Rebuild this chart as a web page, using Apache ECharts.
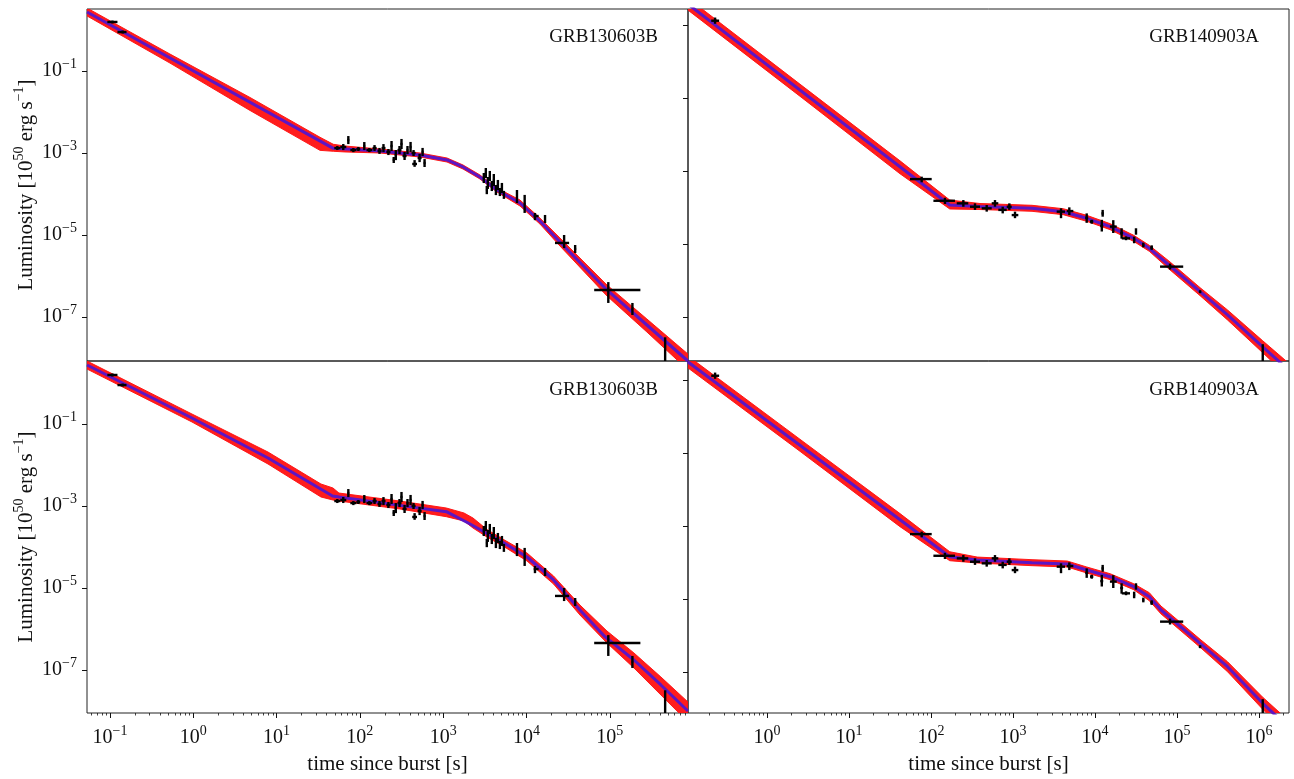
<!DOCTYPE html>
<html>
<head>
<meta charset="utf-8">
<title>GRB light curves</title>
<script src="https://cdn.jsdelivr.net/npm/echarts@6/dist/echarts.min.js"></script>
<style>
  html, body { margin: 0; padding: 0; background: #fff; }
  #chart { width: 1294px; height: 779px; }
</style>
</head>
<body>
<div id="chart"></div>
<script>
// 观测点: [t, tLow, tHigh, L, LLow, LHigh]  (t: s, L: 10^50 erg/s)
const grbA_points = [
  [0.107, 0.093, 0.123, 1.57, 1.44, 1.70],
  [0.142, 0.123, 0.158, 0.89, 0.82, 0.97],
  [53.6, 49.3, 58.3, 1.32e-3, 1.18e-3, 1.48e-3],
  [63.2, 58.1, 68.7, 1.40e-3, 1.18e-3, 1.66e-3],
  [72.7, 70.7, 74.7, 2.07e-3, 1.65e-3, 2.59e-3],
  [83.5, 76.8, 90.8, 1.18e-3, 1.05e-3, 1.32e-3],
  [95.9, 90.7, 101, 1.25e-3, 1.12e-3, 1.40e-3],
  [113, 110, 116, 1.48e-3, 1.18e-3, 1.85e-3],
  [130, 120, 141, 1.18e-3, 1.05e-3, 1.32e-3],
  [150, 142, 159, 1.32e-3, 1.12e-3, 1.56e-3],
  [172, 163, 182, 1.12e-3, 0.95e-3, 1.33e-3],
  [192, 182, 203, 1.32e-3, 1.05e-3, 1.65e-3],
  [220, 208, 233, 1.06e-3, 0.89e-3, 1.25e-3],
  [240, 233, 247, 1.48e-3, 1.12e-3, 1.96e-3],
  [255, 248, 262, 6.8e-4, 5.7e-4, 8.0e-4],
  [270, 262, 278, 8.9e-4, 6.7e-4, 1.18e-3],
  [299, 283, 316, 1.18e-3, 9.4e-4, 1.48e-3],
  [316, 307, 325, 1.66e-3, 1.25e-3, 2.2e-3],
  [344, 325, 364, 8.45e-4, 6.75e-4, 1.06e-3],
  [373, 363, 383, 1.18e-3, 9.4e-4, 1.48e-3],
  [406, 395, 417, 1.40e-3, 1.06e-3, 1.86e-3],
  [441, 417, 466, 1.0e-3, 8.45e-4, 1.18e-3],
  [454, 425, 485, 5.4e-4, 4.6e-4, 6.7e-4],
  [521, 493, 551, 7.55e-4, 6.0e-4, 9.5e-4],
  [566, 551, 582, 1.06e-3, 8.45e-4, 1.33e-3],
  [598, 582, 615, 5.7e-4, 4.55e-4, 7.1e-4],
  [3076, 3000, 3150, 2.45e-4, 1.85e-4, 3.25e-4],
  [3251, 3170, 3330, 3.25e-4, 2.45e-4, 4.3e-4],
  [3340, 3260, 3420, 1.25e-4, 9.9e-5, 1.57e-4],
  [3436, 3350, 3520, 1.85e-4, 1.33e-4, 2.6e-4],
  [3631, 3540, 3720, 2.75e-4, 2.07e-4, 3.65e-4],
  [3837, 3740, 3940, 1.57e-4, 1.18e-4, 2.08e-4],
  [4055, 3950, 4160, 2.19e-4, 1.56e-4, 3.07e-4],
  [4295, 4190, 4400, 1.25e-4, 9.4e-5, 1.66e-4],
  [4538, 4420, 4660, 1.66e-4, 1.25e-4, 2.2e-4],
  [4796, 4680, 4920, 1.12e-4, 8.9e-5, 1.40e-4],
  [5070, 4940, 5200, 1.40e-4, 1.06e-4, 1.86e-4],
  [5358, 5220, 5500, 9.5e-5, 7.6e-5, 1.19e-4],
  [7690, 7500, 7880, 8.7e-5, 6.0e-5, 1.25e-4],
  [9510, 9300, 9720, 5.7e-5, 3.45e-5, 9.5e-5],
  [12650, 12200, 14000, 2.9e-5, 2.3e-5, 3.45e-5],
  [16700, 16300, 17100, 2.45e-5, 1.96e-5, 3.08e-5],
  [28300, 22000, 32500, 6.4e-6, 4.8e-6, 1.0e-5],
  [38400, 37300, 39500, 4.56e-6, 3.64e-6, 5.7e-6],
  [96000, 65000, 233000, 4.56e-7, 2.2e-7, 7.1e-7],
  [187000, 183000, 191000, 1.57e-7, 1.12e-7, 2.2e-7],
  [462000, 455000, 470000, 1.4e-8, 1e-9, 3.2e-8],
]
const grbB_points = [
  [0.233, 0.209, 0.261, 13.1, 10.8, 16.0],
  [77, 55.5, 102, 6.0e-4, 4.9e-4, 7.0e-4],
  [148, 107, 196, 1.53e-4, 1.25e-4, 1.85e-4],
  [248, 206, 285, 1.30e-4, 1.05e-4, 1.60e-4],
  [344, 299, 396, 1.05e-4, 8.6e-5, 1.30e-4],
  [478, 415, 550, 9.5e-5, 7.7e-5, 1.17e-4],
  [603, 550, 662, 1.30e-4, 1.05e-4, 1.60e-4],
  [749, 662, 838, 8.6e-5, 6.9e-5, 1.05e-4],
  [902, 838, 964, 1.05e-4, 8.6e-5, 1.30e-4],
  [1058, 964, 1161, 6.2e-5, 5.1e-5, 7.7e-5],
  [3850, 3410, 4310, 7.7e-5, 5.1e-5, 9.5e-5],
  [4860, 4520, 5440, 8.0e-5, 6.2e-5, 1.01e-4],
  [7920, 7600, 8260, 5.2e-5, 3.8e-5, 6.9e-5],
  [9120, 8690, 9530, 4.1e-5, 3.6e-5, 4.6e-5],
  [12400, 12000, 12800, 6.9e-5, 5.6e-5, 8.6e-5],
  [12100, 11600, 12600, 3.1e-5, 2.2e-5, 4.6e-5],
  [16700, 15200, 18400, 3.0e-5, 2.0e-5, 4.5e-5],
  [21100, 20300, 22000, 2.0e-5, 1.4e-5, 2.7e-5],
  [23900, 21200, 26700, 1.43e-5, 1.27e-5, 1.62e-5],
  [31600, 30700, 32500, 2.2e-5, 1.8e-5, 2.7e-5],
  [30000, 29100, 30900, 1.29e-5, 1.05e-5, 1.59e-5],
  [38800, 37700, 39900, 9.4e-6, 8.1e-6, 1.09e-5],
  [49100, 47300, 51000, 8.0e-6, 6.9e-6, 9.2e-6],
  [82200, 62100, 119000, 2.4e-6, 2.0e-6, 2.9e-6],
  [191000, 185000, 197000, 4.9e-7, 4.5e-7, 5.4e-7],
  [1110000, 1090000, 1130000, 9e-9, 1e-9, 1.8e-8],
]

// 模型中值曲线: [t, L]
const grbA_fitTop = [
  [0.053, 2.75], [48.0, 1.30e-3], [174, 1.12e-3], [527, 8.93e-4], [1112, 6.75e-4],
  [1730, 4.56e-4], [2767, 2.60e-4], [4426, 1.25e-4], [8356, 6.03e-5], [14520, 2.19e-5],
  [25230, 6.75e-6], [92470, 4.56e-7], [279000, 6.38e-8], [867000, 8.45e-9],
]
const grbB_fitTop = [
  [0.1089, 37.2], [169.4, 1.17e-4], [396, 1.064e-4], [1706, 9.51e-5], [4104, 7.67e-5],
  [7925, 5.06e-5], [15310, 2.98e-5], [29650, 1.43e-5], [45920, 7.62e-6], [79700, 2.66e-6],
  [191400, 4.93e-7], [413000, 1.14e-7], [1110000, 1.53e-8], [2320000, 3.44e-9],
]
const grbA_fitBottom = [
  [0.053, 2.75], [0.964, 0.140], [7.89, 0.0148], [47.0, 1.75e-3], [56.1, 1.66e-3],
  [303, 1.035e-3], [1091, 7.26e-4], [2028, 3.79e-4], [3319, 2.16e-4], [5445, 1.23e-4],
  [10140, 5.70e-5], [21130, 1.57e-5], [43860, 2.90e-6], [87500, 6.49e-7], [195000, 1.75e-7],
  [411000, 4.31e-8], [867000, 1.0e-8],
]
const grbB_fitBottom = [
  [0.108, 31.7], [169.4, 1.44e-4], [366, 1.17e-4], [1706, 9.89e-5], [4581, 9.10e-5],
  [7925, 6.24e-5], [15310, 4.08e-5], [29650, 2.17e-5], [45920, 1.16e-5], [63800, 5.0e-6],
  [88900, 2.66e-6], [191400, 6.11e-7], [413000, 1.40e-7], [1110000, 1.39e-8], [2320000, 2.92e-9],
]

// 后验样本包络: [t, Llow, Lhigh]
const grbA_bandTop = [
  [0.053, 2.20, 3.44], [0.525, 0.156, 0.259], [4.80, 0.01089, 0.02259], [33.2, 1.16e-3, 2.42e-3],
  [48.0, 1.10e-3, 1.63e-3], [66.2, 1.06e-3, 1.48e-3], [174, 1.0e-3, 1.25e-3], [527, 7.98e-4, 9.99e-4],
  [1112, 6.03e-4, 7.55e-4], [1730, 4.07e-4, 5.10e-4], [2767, 2.32e-4, 2.91e-4], [4426, 1.12e-4, 1.40e-4],
  [8356, 5.10e-5, 7.13e-5], [14520, 1.85e-5, 2.59e-5], [25230, 5.39e-6, 8.45e-6], [92470, 3.26e-7, 6.04e-7],
  [279000, 4.31e-8, 8.93e-8], [867000, 5.10e-9, 1.25e-8],
]
const grbB_bandTop = [
  [0.1089, 25.5, 54.3], [2.52, 0.112, 0.240], [41.9, 8.4e-4, 1.90e-3], [169.4, 9.1e-5, 1.60e-4],
  [396, 8.8e-5, 1.285e-4], [1706, 7.87e-5, 1.149e-4], [4104, 6.35e-5, 9.27e-5], [7925, 4.19e-5, 6.11e-5],
  [15310, 2.47e-5, 3.60e-5], [29650, 1.18e-5, 1.73e-5], [45920, 6.31e-6, 9.20e-6], [79700, 2.07e-6, 3.42e-6],
  [191400, 3.83e-7, 6.35e-7], [413000, 8.3e-8, 1.56e-7], [1110000, 1.05e-8, 2.23e-8], [2320000, 2.21e-9, 5.35e-9],
]
const grbA_bandBottom = [
  [0.053, 2.19, 3.44], [0.964, 0.112, 0.1754], [7.89, 0.01057, 0.0207], [34.1, 1.66e-3, 3.44e-3],
  [47.5, 1.40e-3, 2.75e-3], [56.1, 1.32e-3, 2.07e-3], [303, 8.45e-4, 1.32e-3], [1091, 5.48e-4, 8.93e-4],
  [1778, 4.31e-4, 6.75e-4], [2281, 2.90e-4, 5.09e-4], [3357, 1.75e-4, 2.67e-4], [5445, 1.0e-4, 1.48e-4],
  [10140, 4.56e-5, 7.14e-5], [21130, 1.25e-5, 1.96e-5], [43860, 2.19e-6, 3.84e-6], [92500, 4.56e-7, 8.93e-7],
  [195000, 1.12e-7, 2.60e-7], [411000, 2.46e-8, 6.75e-8], [867000, 5.40e-9, 1.66e-8],
]
const grbB_bandBottom = [
  [0.108, 21.7, 46.3], [2.52, 0.112, 0.239], [41.9, 9.6e-4, 2.19e-3], [169.4, 1.12e-4, 1.97e-4],
  [366, 9.7e-5, 1.41e-4], [1706, 8.19e-5, 1.195e-4], [4581, 7.53e-5, 1.10e-4], [7925, 5.17e-5, 7.54e-5],
  [15310, 3.38e-5, 4.93e-5], [29650, 1.80e-5, 2.62e-5], [45920, 9.0e-6, 1.49e-5], [63800, 3.9e-6, 6.4e-6],
  [88900, 2.07e-6, 3.42e-6], [191400, 4.75e-7, 7.86e-7], [413000, 1.02e-7, 1.92e-7],
  [1110000, 9.5e-9, 2.03e-8], [2320000, 1.88e-9, 4.54e-9],
]

// 刻度
const xMajorLeft = [0.1, 1, 10, 100, 1e3, 1e4, 1e5]
const xMajorRight = [1, 10, 100, 1e3, 1e4, 1e5, 1e6]
const yMajorLeft = [1e-7, 1e-5, 1e-3, 1e-1]
const yMajorRight = [1e-7, 1e-5, 1e-3, 1e-1, 10]
const minorDecades = [0.01, 0.1, 1, 10, 100, 1e3, 1e4, 1e5, 1e6]

const xRangeLeft = [0.053, 8.69e5]
const xRangeRight = [0.1089, 2.32e6]
const yRangeTL = [8.45e-9, 3.25]
const yRangeBL = [8.93e-9, 3.44]
const yRangeTR = [6.24e-9, 27.4]
const yRangeBR = [7.53e-9, 33.2]

const fontFamily = '"Liberation Serif", "DejaVu Serif", serif'
const ink = '#111'
const fitColor = '#5c16c4'
const bandColor = '#ff1111'

function minorTicks (range) {
  const out = []
  minorDecades.forEach(d => {
    for (let k = 2; k <= 9; k++) {
      const v = d * k
      if (v > range[0] && v < range[1]) out.push(v)
    }
  })
  return out
}

function powLabel (v) {
  const e = Math.round(Math.log10(v))
  return '{b|10}{s|' + (e < 0 ? '\u2212' + (-e) : e) + '}'
}

const tickRich = {
  b: { fontFamily, fontSize: 20, color: ink, lineHeight: 28 },
  s: { fontFamily, fontSize: 14, color: ink, verticalAlign: 'top' },
}

function xAxisOf (gridIndex, range, major, withLabels) {
  return {
    type: 'log',
    gridIndex,
    position: 'bottom',
    min: range[0],
    max: range[1],
    axisLine: { show: false },
    splitLine: { show: false },
    axisTick: withLabels
      ? { show: true, customValues: major, length: 5, lineStyle: { color: ink, width: 1 } }
      : { show: false },
    axisLabel: withLabels
      ? { show: true, customValues: major, formatter: powLabel, margin: 11, rich: tickRich }
      : { show: false },
    name: withLabels ? 'time since burst [s]' : '',
    nameLocation: 'middle',
    nameGap: 39,
    nameTextStyle: { fontFamily, fontSize: 21, color: ink, lineHeight: 24 },
  }
}

// 次刻度单独一条轴, 也放在底部
function minorAxisOf (gridIndex, range) {
  return {
    type: 'log',
    gridIndex,
    position: 'bottom',
    offset: 0,
    min: range[0],
    max: range[1],
    axisLine: { show: false },
    splitLine: { show: false },
    axisLabel: { show: false },
    axisTick: { show: true, customValues: minorTicks(range), length: 2.5, lineStyle: { color: ink, width: 0.8 } },
  }
}

function yAxisOf (gridIndex, range, major, withLabels) {
  return {
    type: 'log',
    gridIndex,
    position: 'left',
    min: range[0],
    max: range[1],
    axisLine: { show: false },
    splitLine: { show: false },
    axisTick: { show: true, customValues: major, length: 5, lineStyle: { color: ink, width: 1 } },
    axisLabel: withLabels
      ? { show: true, customValues: major, formatter: powLabel, margin: 10, rich: tickRich }
      : { show: false },
    name: withLabels ? '{n|Luminosity [10}{s|50}{n| erg s}{s|\u22121}{n|]}' : '',
    nameLocation: 'middle',
    nameRotate: 90,
    nameGap: 47,
    nameTextStyle: {
      rich: {
        n: { fontFamily, fontSize: 21, color: ink, lineHeight: 28 },
        s: { fontFamily, fontSize: 14, color: ink, verticalAlign: 'top' },
      },
    },
  }
}

function bandSeries (idx, band) {
  return {
    type: 'custom',
    xAxisIndex: idx,
    yAxisIndex: idx,
    clip: true,
    silent: true,
    z: 1,
    data: [[1, 1]],
    renderItem (params, api) {
      const upper = band.map(r => api.coord([r[0], r[2]]))
      const lower = band.map(r => api.coord([r[0], r[1]])).reverse()
      return {
        type: 'polygon',
        shape: { points: upper.concat(lower) },
        style: { fill: bandColor, stroke: bandColor, lineWidth: 1, opacity: 0.95 },
      }
    },
  }
}

function fitSeries (idx, fit) {
  return {
    type: 'line',
    xAxisIndex: idx,
    yAxisIndex: idx,
    data: fit,
    symbol: 'none',
    silent: true,
    z: 2,
    lineStyle: { color: fitColor, width: 3 },
  }
}

function errSeries (idx, points) {
  return {
    type: 'custom',
    xAxisIndex: idx,
    yAxisIndex: idx,
    clip: true,
    silent: true,
    z: 3,
    data: points,
    encode: { x: 0, y: 3 },
    renderItem (params, api) {
      const t = api.value(0)
      const L = api.value(3)
      const a = api.coord([api.value(1), L])
      const b = api.coord([api.value(2), L])
      const c = api.coord([t, api.value(4)])
      const d = api.coord([t, api.value(5)])
      const style = { stroke: '#000', lineWidth: 2.4 }
      return {
        type: 'group',
        children: [
          { type: 'line', shape: { x1: a[0], y1: a[1], x2: b[0], y2: b[1] }, style },
          { type: 'line', shape: { x1: c[0], y1: c[1], x2: d[0], y2: d[1] }, style },
        ],
      }
    },
  }
}

const gridBase = { show: true, borderColor: '#222', borderWidth: 1, containLabel: false, outerBoundsMode: 'none' }
const titleStyle = { fontFamily, fontSize: 19, fontWeight: 'normal', color: ink }

const chart = echarts.init(document.getElementById('chart'))
chart.setOption({
  animation: false,
  backgroundColor: '#fff',
  title: [
    { text: 'GRB130603B', right: 1294 - 658, top: 28, padding: 0, textStyle: titleStyle },
    { text: 'GRB140903A', right: 1294 - 1259, top: 28, padding: 0, textStyle: titleStyle },
    { text: 'GRB130603B', right: 1294 - 658, top: 381, padding: 0, textStyle: titleStyle },
    { text: 'GRB140903A', right: 1294 - 1259, top: 381, padding: 0, textStyle: titleStyle },
  ],
  grid: [
    Object.assign({ left: 87, top: 9, width: 601, height: 352 }, gridBase),
    Object.assign({ left: 688, top: 9, width: 601, height: 352 }, gridBase),
    Object.assign({ left: 87, top: 361, width: 601, height: 352 }, gridBase),
    Object.assign({ left: 688, top: 361, width: 601, height: 352 }, gridBase),
  ],
  xAxis: [
    xAxisOf(0, xRangeLeft, xMajorLeft, false),
    xAxisOf(1, xRangeRight, xMajorRight, false),
    xAxisOf(2, xRangeLeft, xMajorLeft, true),
    xAxisOf(3, xRangeRight, xMajorRight, true),
    minorAxisOf(2, xRangeLeft),
    minorAxisOf(3, xRangeRight),
  ],
  yAxis: [
    yAxisOf(0, yRangeTL, yMajorLeft, true),
    yAxisOf(1, yRangeTR, yMajorRight, false),
    yAxisOf(2, yRangeBL, yMajorLeft, true),
    yAxisOf(3, yRangeBR, yMajorRight, false),
  ],
  series: [
    bandSeries(0, grbA_bandTop), fitSeries(0, grbA_fitTop), errSeries(0, grbA_points),
    bandSeries(1, grbB_bandTop), fitSeries(1, grbB_fitTop), errSeries(1, grbB_points),
    bandSeries(2, grbA_bandBottom), fitSeries(2, grbA_fitBottom), errSeries(2, grbA_points),
    bandSeries(3, grbB_bandBottom), fitSeries(3, grbB_fitBottom), errSeries(3, grbB_points),
  ],
})
</script>
</body>
</html>
